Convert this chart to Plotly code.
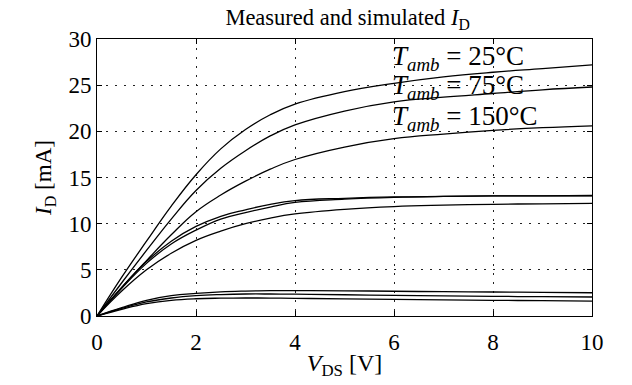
import plotly.graph_objects as go

# V_DS samples [V]
vds = [0, 0.5, 1, 1.5, 2, 2.5, 3, 3.5, 4, 5, 6, 7, 8, 9, 10]

# High gate-voltage curves (three temperatures)
id_hi_25 = [0, 4.2, 8.1, 11.9, 15.3, 18.1, 20.2, 21.8, 22.95, 24.3, 25.2, 25.9, 26.4, 26.8, 27.2]
id_hi_75 = [0, 3.6, 7.1, 10.5, 13.6, 16.0, 17.9, 19.5, 20.7, 22.2, 23.2, 23.7, 24.1, 24.5, 24.8]
id_hi_150 = [0, 3.1, 6.0, 8.8, 11.3, 13.1, 14.6, 15.9, 16.95, 18.3, 19.2, 19.7, 20.1, 20.4, 20.6]

# Middle gate-voltage curves
id_mid_a = [0, 3.1, 5.9, 8.1, 9.7, 10.8, 11.5, 12.1, 12.5, 12.75, 12.9, 12.95, 13.0, 13.0, 13.0]
id_mid_b = [0, 3.0, 5.7, 7.8, 9.3, 10.5, 11.2, 11.8, 12.3, 12.65, 12.85, 12.95, 13.0, 13.0, 13.05]
id_mid_c = [0, 2.7, 5.0, 6.8, 8.2, 9.2, 10.0, 10.6, 11.05, 11.55, 11.85, 12.0, 12.1, 12.15, 12.2]

# Low gate-voltage curves
id_lo_a = [0, 0.9, 1.7, 2.2, 2.45, 2.62, 2.7, 2.74, 2.75, 2.73, 2.68, 2.63, 2.6, 2.56, 2.52]
id_lo_b = [0, 0.82, 1.52, 1.95, 2.2, 2.32, 2.38, 2.38, 2.36, 2.3, 2.24, 2.18, 2.13, 2.09, 2.06]
id_lo_c = [0, 0.72, 1.33, 1.7, 1.87, 1.93, 1.95, 1.94, 1.91, 1.86, 1.8, 1.75, 1.7, 1.66, 1.62]

x_ticks = [0, 2, 4, 6, 8, 10]
y_ticks = [0, 5, 10, 15, 20, 25, 30]

labels = ["25", "75", "150"]
label_y = [27.9, 24.8, 21.4]

FONT = "Liberation Serif"

fig = go.Figure()
for ys in [id_hi_25, id_hi_75, id_hi_150, id_mid_a, id_mid_b, id_mid_c,
           id_lo_a, id_lo_b, id_lo_c]:
    fig.add_trace(go.Scatter(x=vds, y=ys, mode="lines",
                             line=dict(color="black", width=1.3, shape="spline", smoothing=1.2),
                             showlegend=False, hoverinfo="skip"))

for t, yy in zip(labels, label_y):
    fig.add_annotation(x=5.92, y=yy, xref="x", yref="y",
                       text="<i>T<sub>amb</sub></i> = " + t + "°C",
                       showarrow=False, xanchor="left", yanchor="middle",
                       font=dict(family=FONT, size=27, color="black"))

fig.update_layout(
    width=632, height=385,
    margin=dict(l=97, r=40, t=39, b=69),
    paper_bgcolor="white", plot_bgcolor="white",
    font=dict(family=FONT, size=23, color="black"),
    title=dict(text="Measured and simulated <i>I</i><sub>D</sub>",
               x=0.55, xanchor="center", y=0.955, yanchor="middle",
               font=dict(family=FONT, size=22.5, color="black")),
)

common = dict(showline=True, linecolor="black", linewidth=1, mirror="allticks",
              ticks="inside", ticklen=5, tickcolor="black",
              showgrid=True, gridcolor="#222", gridwidth=1, griddash="2px,7px",
              zeroline=False, tickfont=dict(family=FONT, size=23, color="black"))

fig.update_xaxes(range=[0, 10], tickvals=x_ticks, ticktext=[str(v) for v in x_ticks],
                 ticklabelstandoff=5,
                 title=dict(text="<i>V</i><sub>DS</sub> [V]", standoff=0,
                            font=dict(family=FONT, size=24)), **common)
fig.update_yaxes(range=[0, 30], tickvals=y_ticks, ticktext=[str(v) for v in y_ticks],
                 title=dict(text="<i>I</i><sub>D</sub> [mA]", standoff=10,
                            font=dict(family=FONT, size=23)), **common)

fig.write_html("out.html")
